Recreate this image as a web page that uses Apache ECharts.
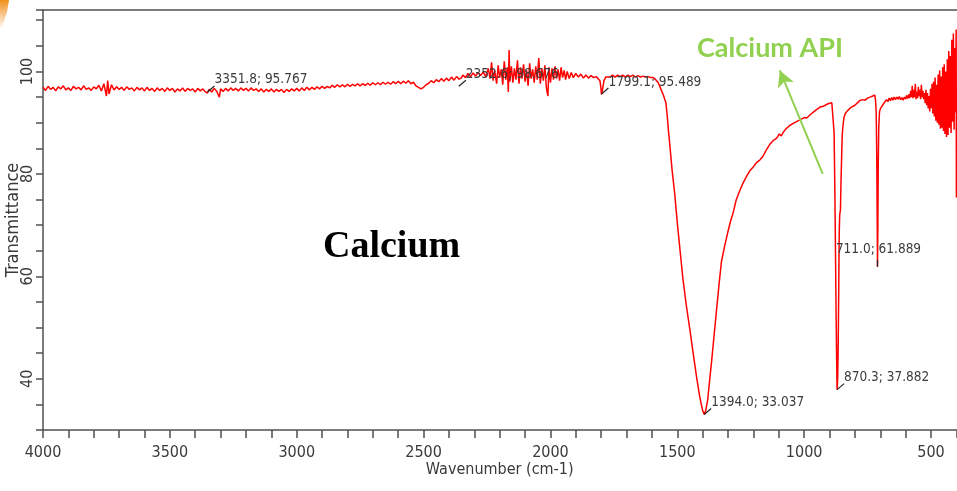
<!DOCTYPE html>
<html>
<head>
<meta charset="utf-8">
<title>Calcium FTIR</title>
<script src="https://cdn.jsdelivr.net/npm/echarts@6/dist/echarts.min.js"></script>
<style>
  html, body { margin: 0; padding: 0; background: #fff; }
  #chart { width: 957px; height: 491px; }
</style>
</head>
<body>
<div id="chart"></div>
<script>
// spectrum: [wavenumber cm-1, transmittance %]
const spectrum = [
  [4000,96.9],[3990,96.3],[3980,97.1],[3970,96.5],[3960,96.9],[3950,96.2],[3940,97.0],[3930,96.6],[3920,97.2],[3910,96.4],
  [3900,96.8],[3890,96.3],[3880,97.1],[3870,96.6],[3860,96.9],[3850,96.4],[3840,97.2],[3830,96.5],[3820,96.8],[3810,96.3],
  [3800,97.0],[3790,96.6],[3780,97.3],[3770,96.2],[3760,97.6],[3750,95.2],[3745,98.2],[3740,95.6],[3730,97.4],[3720,96.4],
  [3710,97.0],[3700,96.5],[3690,96.9],[3680,96.3],[3670,97.0],[3660,96.5],[3650,96.8],[3640,96.2],[3630,96.9],[3620,96.4],
  [3610,96.8],[3600,96.2],[3590,96.9],[3580,96.3],[3570,96.7],[3560,96.1],[3550,96.8],[3540,96.3],[3530,96.7],[3520,96.1],
  [3510,96.8],[3500,96.3],[3490,96.7],[3480,96.0],[3470,96.6],[3460,96.2],[3450,96.8],[3440,96.1],[3430,96.7],[3420,96.3],
  [3410,96.6],[3400,96.0],[3390,96.7],[3380,96.2],[3370,96.6],[3360,96.0],[3352,95.8],[3345,96.5],[3335,96.0],[3325,96.7],
  [3315,96.1],[3305,95.0],[3300,96.6],[3290,96.1],[3280,96.7],[3270,96.2],[3260,96.8],[3250,96.3],[3240,96.7],[3230,96.2],
  [3220,96.8],[3210,96.3],[3200,96.7],[3190,96.2],[3180,96.8],[3170,96.3],[3160,96.6],[3150,96.1],[3140,96.6],[3130,96.0],
  [3120,96.5],[3110,96.1],[3100,96.6],[3090,96.0],[3080,96.5],[3070,96.1],[3060,96.5],[3050,95.9],[3040,96.5],[3030,96.1],
  [3020,96.6],[3010,96.2],[3000,96.7],[2990,96.2],[2980,96.8],[2970,96.3],[2960,96.9],[2950,96.4],[2940,96.9],[2930,96.5],
  [2920,97.0],[2910,96.6],[2900,97.1],[2890,96.7],[2880,97.1],[2870,96.8],[2860,97.3],[2850,96.9],[2840,97.4],[2830,97.0],
  [2820,97.4],[2810,97.0],[2800,97.5],[2790,97.1],[2780,97.5],[2770,97.2],[2760,97.6],[2750,97.2],[2740,97.6],[2730,97.3],
  [2720,97.7],[2710,97.3],[2700,97.8],[2690,97.4],[2680,97.8],[2670,97.4],[2660,97.9],[2650,97.5],[2640,97.9],[2630,97.5],
  [2620,98.0],[2610,97.6],[2600,98.1],[2590,97.6],[2580,98.1],[2570,97.7],[2560,98.2],[2550,97.6],[2540,97.9],[2530,97.2],
  [2520,96.9],[2510,96.6],[2500,96.9],[2490,97.4],[2480,97.7],[2470,98.2],[2460,97.8],[2450,98.4],[2440,98.0],[2430,98.6],
  [2420,98.1],[2410,98.7],[2400,98.2],[2390,98.9],[2380,98.3],[2370,99.0],[2360,98.5],[2352,98.7],[2345,99.3],[2335,98.8],
  [2325,99.6],[2315,99.0],[2305,99.7],[2295,99.1],[2285,99.8],[2275,99.2],[2265,99.9],[2255,99.0],[2245,100.6],[2238,98.6],
  [2232,101.8],[2226,98.2],[2220,100.2],[2212,97.6],[2206,101.2],[2200,98.8],[2194,100.4],[2188,97.4],[2182,102.0],[2176,98.4],
  [2170,100.8],[2166,96.0],[2163,104.2],[2160,98.0],[2154,101.0],[2148,97.8],[2142,100.6],[2136,98.4],[2130,102.2],[2124,97.6],
  [2118,100.8],[2112,98.6],[2106,101.4],[2100,98.0],[2094,100.2],[2088,97.2],[2082,101.6],[2076,98.6],[2070,100.4],[2064,97.8],
  [2058,101.0],[2052,98.4],[2046,102.6],[2040,97.6],[2034,100.6],[2028,98.2],[2022,101.2],[2016,96.8],[2010,95.2],[2006,100.8],
  [2000,97.8],[1994,100.6],[1988,98.4],[1982,101.0],[1976,98.6],[1970,100.4],[1964,98.2],[1958,100.8],[1952,98.8],[1946,100.2],
  [1940,98.4],[1934,100.0],[1926,98.6],[1918,99.8],[1910,98.8],[1900,99.6],[1890,98.9],[1880,99.5],[1870,98.7],[1860,99.3],
  [1850,98.7],[1840,99.2],[1830,98.8],[1820,99.0],[1812,98.6],[1805,98.2],[1801,96.8],[1799,95.5],[1795,96.4],[1789,98.2],
  [1782,98.9],[1775,99.2],[1765,98.9],[1755,99.3],[1745,98.9],[1735,99.3],[1725,99.0],[1715,99.3],[1705,98.9],[1695,99.3],
  [1685,99.0],[1675,99.3],[1665,98.9],[1655,99.2],[1645,98.9],[1635,99.1],[1625,98.9],[1615,99.0],[1605,98.8],[1595,98.8],
  [1585,98.4],[1575,97.8],[1565,96.6],[1555,95.4],[1545,93.9],[1540,91.5],[1535,88.5],[1530,85.9],[1520,80.5],[1510,76.0],
  [1498,69.4],[1488,64.5],[1478,59.6],[1465,54.5],[1451,49.8],[1437,44.8],[1423,40.0],[1412,36.6],[1405,34.9],[1400,33.8],
  [1394,33.04],[1388,33.8],[1380,36.0],[1372,40.0],[1365,43.3],[1355,48.5],[1346,53.1],[1336,58.2],[1326,62.9],[1313,66.0],
  [1301,68.6],[1290,70.8],[1281,72.2],[1268,74.9],[1254,76.7],[1240,78.3],[1225,79.7],[1214,80.6],[1200,81.4],[1188,82.2],
  [1175,82.7],[1163,83.4],[1150,84.6],[1135,85.8],[1120,86.6],[1108,87.0],[1098,87.8],[1090,87.4],[1084,88.0],[1072,88.8],
  [1058,89.4],[1045,89.8],[1030,90.2],[1015,90.6],[1000,91.0],[990,90.9],[975,91.6],[960,92.2],[950,92.6],[939,93.0],
  [925,93.2],[910,93.6],[900,93.8],[891,93.9],[886,94.2],[884,93.7],[882,88.0],[880,80.6],[878,72.0],[876,62.0],
  [874,52.0],[872,44.0],[870.3,37.88],[868,40.0],[866,46.0],[864,56.0],[862,68.0],[860,72.0],[857,73.0],[855,78.0],
  [853,82.0],[850,87.5],[847,89.5],[843,91.0],[838,91.8],[828,92.4],[815,93.0],[800,93.4],[793,93.7],[781,94.3],
  [770,94.5],[760,94.4],[750,94.8],[740,95.0],[730,95.2],[722,95.4],[719,94.6],[716,92.0],[714,84.0],[712,70.0],
  [711,61.89],[709.5,70.0],[708,82.0],[706,89.0],[703,92.2],[699,92.8],[693,93.0],[686,93.8],[680,94.0],[675,94.5],
  [670,94.1],[665,94.8],[660,94.3],[655,94.9],[650,94.4],[645,95.0],[640,94.5],[635,95.0],[630,94.6],[625,95.1],
  [620,94.5],[615,94.9],[610,94.4],[605,95.0],[600,94.6],[596,95.3],[592,94.7],[588,95.5],[584,94.8],[580,96.2],
  [577,95.0],[574,97.2],[571,94.8],[568,96.4],[565,95.0],[562,97.6],[559,94.6],[556,96.0],[553,94.8],[550,97.0],
  [547,95.2],[544,96.4],[541,94.6],[538,97.4],[535,95.0],[532,96.2],[529,94.6],[526,95.8],[523,93.8],[520,96.4],
  [517,93.4],[514,95.8],[511,92.8],[508,95.2],[505,92.2],[502,96.6],[499,92.8],[496,97.6],[493,91.8],[490,98.0],
  [487,91.2],[484,98.8],[481,90.4],[478,97.4],[475,90.0],[472,99.4],[469,89.6],[466,100.2],[463,88.8],[460,99.0],
  [457,89.0],[454,100.8],[451,88.4],[448,101.4],[445,87.8],[442,100.0],[439,87.2],[436,102.4],[433,87.6],[430,104.0],
  [427,89.0],[424,103.0],[421,88.0],[418,106.2],[415,90.2],[412,107.4],[409,88.6],[406,104.6],[403,92.0],[401,108.2],
  [400,75.4]
];

// peak annotations
const peakW = [3351.8, 2361, 1799.1, 1394.0, 870.3, 711.0];
const peakT = [96.0, 97.1, 95.6, 33.04, 37.88, 61.89];
const peakText = ['3351.8; 95.767', '2352.6; 98.676', '1799.1; 95.489', '1394.0; 33.037', '870.3; 37.882', '711.0; 61.889'];

// green arrow, tail -> head
const arrowFrom = [927, 80];
const arrowTo = [1096, 100.2];

const narrow = '"DejaVu Sans Condensed", "Liberation Sans Narrow", Arial, sans-serif';
const axisGray = '#505050';
const textGray = '#3a3a3a';

const chart = echarts.init(document.getElementById('chart'), null, { renderer: 'canvas' });

chart.setOption({
  animation: false,
  backgroundColor: '#fff',
  grid: { left: 43, right: 0.6, top: 10, bottom: 61, containLabel: false, outerBoundsMode: 'none' },
  xAxis: [
    {
      type: 'value',
      inverse: true,
      min: 400,
      max: 4000,
      interval: 100,
      name: 'Wavenumber (cm-1)',
      nameLocation: 'middle',
      nameGap: 32,
      nameMoveOverlap: false,
      nameTextStyle: { color: textGray, fontFamily: narrow, fontSize: 16 },
      axisLine: { show: true, lineStyle: { color: axisGray, width: 1.5 } },
      axisTick: { show: true, length: 8, lineStyle: { color: axisGray, width: 1.5 } },
      axisLabel: {
        color: textGray, fontFamily: narrow, fontSize: 16, margin: 15,
        formatter: v => (v % 500 === 0 ? String(v) : '')
      },
      splitLine: { show: false }
    },
    {
      type: 'value',
      position: 'top',
      inverse: true,
      min: 400,
      max: 4000,
      axisLine: { show: true, lineStyle: { color: axisGray, width: 1.5 } },
      axisTick: { show: false },
      axisLabel: { show: false },
      splitLine: { show: false }
    }
  ],
  yAxis: {
    type: 'value',
    min: 30,
    max: 112,
    interval: 5,
    name: 'Transmittance',
    nameLocation: 'middle',
    nameGap: 21,
    nameMoveOverlap: false,
    nameTextStyle: { color: textGray, fontFamily: narrow, fontSize: 18 },
    axisLine: { show: true, lineStyle: { color: axisGray, width: 1.5 } },
    axisTick: { show: true, length: 7, lineStyle: { color: axisGray, width: 1.5 } },
    axisLabel: {
      color: textGray, fontFamily: narrow, fontSize: 16, rotate: 90, margin: 7,
      formatter: v => (v % 20 === 0 ? String(v) : '')
    },
    splitLine: { show: false }
  },
  series: [
    {
      type: 'line',
      data: spectrum,
      showSymbol: false,
      symbol: 'none',
      sampling: 'none',
      lineStyle: { color: '#ff0000', width: 1.5 },
      silent: true,
      z: 2,
      markLine: {
        silent: true,
        symbol: ['none', 'arrow'],
        symbolSize: [13, 16],
        label: { show: false },
        lineStyle: { color: '#92d050', width: 2, type: 'solid' },
        data: [[{ coord: arrowFrom }, { coord: arrowTo }]]
      }
    },
    {
      type: 'custom',
      data: peakW.map((w, i) => [w, peakT[i]]),
      silent: true,
      z: 3,
      renderItem: (params, api) => {
        const p = api.coord([api.value(0), api.value(1)]);
        const i = params.dataIndex;
        const centered = i === peakW.length - 1;
        const end = centered ? [p[0], p[1] - 7] : [p[0] + 7, p[1] - 6];
        return {
          type: 'group',
          children: [
            {
              type: 'line',
              shape: { x1: p[0], y1: p[1], x2: end[0], y2: end[1] },
              style: { stroke: '#222', lineWidth: 1.2 }
            },
            {
              type: 'text',
              style: {
                x: centered ? p[0] + 1 : p[0] + 7,
                y: centered ? p[1] - 10 : p[1] - 5,
                text: peakText[i],
                align: centered ? 'center' : 'left',
                verticalAlign: 'bottom',
                fill: '#3c3c3c',
                font: '13.5px ' + narrow
              }
            }
          ]
        };
      }
    }
  ],
  graphic: [
    {
      type: 'polygon',
      shape: { points: [[0, 0], [9, 0], [7, 12], [3, 24], [0, 30]] },
      style: {
        fill: new echarts.graphic.LinearGradient(0, 0, 0, 1, [
          { offset: 0, color: '#f0901a' },
          { offset: 1, color: 'rgba(240,150,40,0)' }
        ])
      },
      silent: true
    },
    {
      type: 'text',
      left: 323,
      top: 228,
      silent: true,
      style: {
        text: 'Calcium',
        fill: '#000',
        font: 'bold 38px "Liberation Serif", "Times New Roman", serif'
      }
    },
    {
      type: 'text',
      left: 697,
      top: 35,
      silent: true,
      style: {
        text: 'Calcium API',
        fill: '#92d050',
        font: 'bold 27px Lato, "Open Sans", sans-serif'
      }
    }
  ]
});
</script>
</body>
</html>
